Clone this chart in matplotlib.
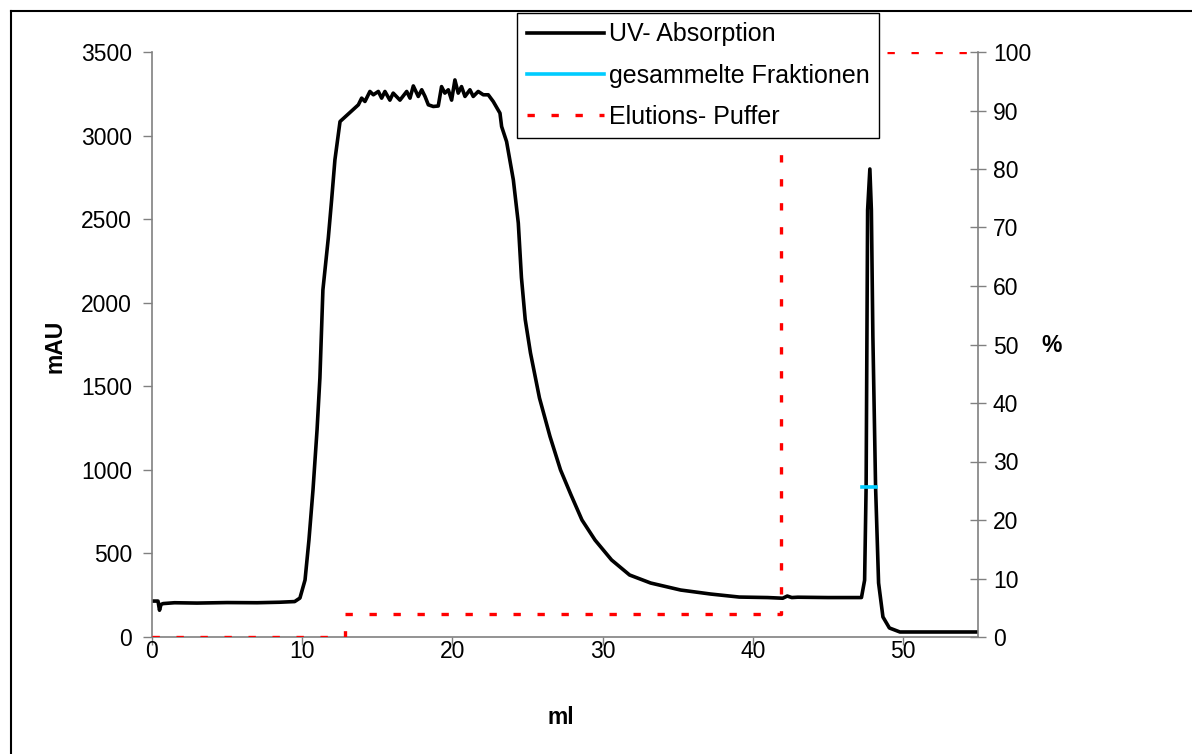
import matplotlib
matplotlib.use("Agg")
import matplotlib.pyplot as plt
from matplotlib.lines import Line2D

plt.rcParams['font.family'] = ['Liberation Sans', 'DejaVu Sans']

# UV absorption trace (ml, mAU)
uv_ml = [0.0, 0.4, 0.5, 0.6, 0.75, 1.5, 3.0, 5.0, 7.0, 8.5, 9.5, 9.85, 10.19, 10.45, 10.72,
         10.99, 11.18, 11.38, 11.74, 11.96, 12.18, 12.52, 13.74, 13.96, 14.18, 14.51, 14.74,
         15.07, 15.29, 15.51, 15.84, 16.06, 16.51, 16.96, 17.18, 17.4, 17.73, 17.96, 18.18,
         18.4, 18.73, 19.06, 19.28, 19.5, 19.73, 19.95, 20.17, 20.39, 20.61, 20.84, 21.17,
         21.39, 21.72, 22.06, 22.39, 22.72, 23.17, 23.28, 23.61, 24.06, 24.39, 24.6, 24.85,
         25.2, 25.8, 26.5, 27.2, 27.9, 28.63, 29.5, 30.6, 31.8, 33.2, 35.2, 37.2, 39.1, 41.0,
         42.0, 42.3, 42.6, 43.0, 45.0, 47.24, 47.45, 47.55, 47.65, 47.8, 47.9, 48.0, 48.18,
         48.38, 48.67, 49.1, 49.8, 52.0, 55.0]
uv_mau = [215, 215, 160, 195, 200, 205, 203, 206, 205, 208, 212, 233, 341, 580, 880,
          1239, 1550, 2077, 2388, 2615, 2855, 3084, 3184, 3224, 3204, 3264, 3244,
          3264, 3224, 3264, 3212, 3254, 3212, 3264, 3224, 3297, 3234, 3274, 3234,
          3184, 3174, 3177, 3293, 3254, 3274, 3212, 3333, 3254, 3293, 3234, 3274,
          3234, 3264, 3244, 3244, 3204, 3134, 3054, 2964, 2735, 2477, 2150, 1900,
          1700, 1430, 1200, 1000, 850, 700, 580, 461, 371, 323, 281, 257, 239, 236,
          232, 245, 236, 238, 236, 236, 340, 898, 2555, 2800, 2555, 1800, 898,
          323, 120, 54, 30, 30, 30]

# collected fraction marker (mAU)
frac_ml = [47.3, 48.2]
frac_mau = [900, 900]

# elution buffer (%)
buf_ml = [0.0, 12.85, 12.85, 41.9, 41.9, 55.0]
buf_pct = [0, 0, 4, 4, 100, 100]

fig = plt.figure(figsize=(11.92, 7.54), dpi=100)
ax = fig.add_axes([152 / 1192, 117 / 754, 826 / 1192, 585 / 754])
ax2 = ax.twinx()

ax.plot(uv_ml, uv_mau, color='black', lw=2.6, label='UV- Absorption', solid_joinstyle='round')
ax.plot(frac_ml, frac_mau, color='#00CCFF', lw=2.6, label='gesammelte Fraktionen')
ax2.plot(buf_ml, buf_pct, color='#FF0000', lw=2.4, linestyle=(0, (2.2, 5.0)),
         label='Elutions- Puffer')

ax.set_xlim(0, 55)
ax.set_ylim(0, 3500)
ax2.set_ylim(0, 100)
ax.set_xticks(range(0, 51, 10))
ax.set_yticks(range(0, 3501, 500))
ax2.set_yticks(range(0, 101, 10))

for a in (ax, ax2):
    for s in a.spines.values():
        s.set_visible(False)
    a.patch.set_visible(False)
ax.spines['left'].set_visible(True)
ax.spines['bottom'].set_visible(True)
ax2.spines['right'].set_visible(True)
for s in (ax.spines['left'], ax.spines['bottom'], ax2.spines['right']):
    s.set_color('#808080')
    s.set_linewidth(1.2)

ax.tick_params(axis='y', direction='out', length=6.5, width=1, color='#808080',
               labelsize=16.5, pad=8)
ax.tick_params(axis='x', direction='out', length=5.5, width=1, color='#808080',
               labelsize=16.5, pad=-3)
ax2.tick_params(axis='y', direction='inout', length=11.5, width=1, color='#808080',
                labelsize=16.5, pad=5)

fig.text(55 / 1192, 1 - 346 / 754, 'mAU', rotation=90, ha='center', va='center',
         fontsize=16.5, fontweight='bold')
fig.text(561 / 1192, 1 - 718 / 754, 'ml', ha='center', va='center',
         fontsize=16.5, fontweight='bold')
fig.text(1052 / 1192, 1 - 346 / 754, '%', ha='center', va='center',
         fontsize=16.5, fontweight='bold')

handles = ax.get_legend_handles_labels()[0] + ax2.get_legend_handles_labels()[0]
leg = fig.legend(handles=handles, loc='upper left',
                 bbox_to_anchor=(517 / 1192, 1 - 13 / 754), fontsize=18,
                 handlelength=3.1, handletextpad=0.2, labelspacing=0.68,
                 borderpad=0.38, borderaxespad=0, fancybox=False, framealpha=1)
leg.get_frame().set_edgecolor('black')
leg.get_frame().set_linewidth(1.0)

# outer chart border
fig.add_artist(Line2D([11 / 1192, 11 / 1192], [0, 1 - 11 / 754], color='black', lw=1.5,
                      transform=fig.transFigure))
fig.add_artist(Line2D([11 / 1192, 1], [1 - 11 / 754, 1 - 11 / 754], color='black', lw=1.5,
                      transform=fig.transFigure))

fig.savefig('out.png', dpi=100)
